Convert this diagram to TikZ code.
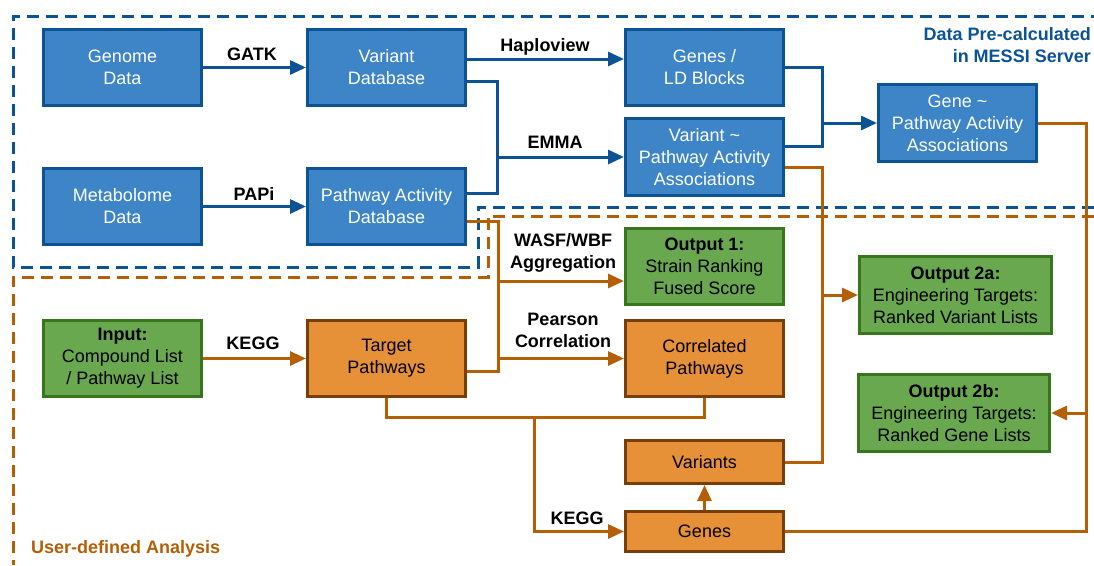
\documentclass[tikz,border=0pt]{standalone}
\usepackage{fontspec}
\setmainfont{Liberation Sans}
\usetikzlibrary{arrows.meta}

\definecolor{boxblue}{HTML}{3D85C6}
\definecolor{lineblue}{HTML}{0B5394}
\definecolor{boxgreen}{HTML}{6AA84F}
\definecolor{linegreen}{HTML}{38761D}
\definecolor{boxorange}{HTML}{E69138}
\definecolor{lineorange}{HTML}{B45F06}
\definecolor{edgebrown}{HTML}{783F04}

\tikzset{
  box/.style={draw, line width=3pt, minimum width=158pt, minimum height=76pt,
    align=center, inner sep=2pt, font=\fontsize{18}{22}\selectfont},
  bluebox/.style={box, fill=boxblue, draw=lineblue, text=white},
  greenbox/.style={box, fill=boxgreen, draw=linegreen},
  orangebox/.style={box, fill=boxorange, draw=edgebrown},
  blueline/.style={draw=lineblue, line width=3pt},
  orangeline/.style={draw=lineorange, line width=3pt},
  arr/.style={-{Triangle[length=16pt,width=14pt]}},
  lbl/.style={font=\bfseries\fontsize{18}{22}\selectfont, align=center, inner sep=0pt},
  region/.style={line width=3pt, dash pattern=on 12pt off 7pt}
}

\begin{document}
\begin{tikzpicture}[x=1pt,y=-1pt]
  \useasboundingbox (0,0) rectangle (1094,565);

  % the two areas
  \draw[region, lineblue] (1094,207) -- (478,207) -- (478,267) -- (13,267) -- (13,16) -- (1094,16);
  \draw[region, lineorange] (1094,216) -- (488,216) -- (488,277) -- (13,277) -- (13,565);
  \node[lbl, text=lineblue, align=right, anchor=base east] (server) at (1091,62) {Data Pre-calculated\\in MESSI Server};
  \node[lbl, text=lineorange, anchor=base west] (user) at (31,553) {User-defined Analysis};

  % precalculated data
  \node[bluebox] (gen) at (122.5,67.5) {Genome\\Data};
  \node[bluebox] (vdb) at (386.5,67.5) {Variant\\Database};
  \node[bluebox] (met) at (122.5,206.5) {Metabolome\\Data};
  \node[bluebox] (pad) at (386.5,206.5) {Pathway Activity\\Database};
  \node[bluebox] (gld) at (704.5,67.5) {Genes /\\LD Blocks};
  \node[bluebox, minimum height=77pt] (vpa) at (704.5,157) {Variant \textasciitilde\\Pathway Activity\\Associations};
  \node[bluebox, minimum height=77pt] (gpa) at (957.5,123) {Gene \textasciitilde\\Pathway Activity\\Associations};

  % user analysis
  \node[greenbox] (inp) at (122.5,358.5) {\textbf{Input:}\\Compound List\\/ Pathway List};
  \node[orangebox] (tgt) at (386.5,358.5) {Target\\Pathways};
  \node[greenbox] (o1) at (704.5,266.5) {\textbf{Output 1:}\\Strain Ranking\\Fused Score};
  \node[orangebox] (cor) at (704.5,358.5) {Correlated\\Pathways};
  \node[greenbox, minimum width=192pt, minimum height=77pt] (o2a) at (955.5,295) {\textbf{Output 2a:}\\Engineering Targets:\\Ranked Variant Lists};
  \node[greenbox, minimum width=191pt, minimum height=77pt] (o2b) at (954,413) {\textbf{Output 2b:}\\Engineering Targets:\\Ranked Gene Lists};
  \node[orangebox, minimum height=43pt] (var) at (704.5,462) {Variants};
  \node[orangebox, minimum height=40pt] (gns) at (704.5,531.5) {Genes};

  % junctions
  \coordinate (jb) at (497,157);
  \coordinate (jg) at (822,123);
  \coordinate (pt) at (498,221);
  \coordinate (tp) at (498,371);
  \coordinate (o1in) at ([yshift=-14.5pt]o1.west);
  \coordinate (jk) at (534,417);
  \coordinate (jv) at (822,295);
  \coordinate (jo) at (1086,413);

  % blue connectors
  \draw[blueline, arr] (gen) -- (vdb);
  \draw[blueline, arr] (met) -- (pad);
  \draw[blueline, arr] ([yshift=8.5pt]vdb.east) -- ([yshift=8.5pt]gld.west);
  \draw[blueline] ([yshift=-13.5pt]vdb.east) -| (jb);
  \draw[blueline] ([yshift=13.5pt]pad.east) -| (jb);
  \draw[blueline, arr] (jb) -- (vpa.west);
  \draw[blueline] (gld.east) -| (jg);
  \draw[blueline] ([yshift=11pt]vpa.east) -| (jg);
  \draw[blueline, arr] (jg) -- (gpa.west);

  % orange connectors
  \draw[orangeline, arr] (inp) -- (tgt);
  \draw[orangeline] ([yshift=-14.5pt]pad.east) -- (pt) -- (tp) -- ([yshift=-12.5pt]tgt.east);
  \draw[orangeline, arr] (o1in -| tp) -- (o1in);
  \draw[orangeline, arr] (cor.west -| tp) -- (cor.west);
  \draw[orangeline] (tgt.south) |- (jk) -| (cor.south);
  \draw[orangeline, arr] (jk) |- (gns.west);
  \draw[orangeline, arr] (gns) -- (var);
  \draw[orangeline] ([yshift=-10pt]vpa.east) -| (jv) |- (var.east);
  \draw[orangeline, arr] (jv) -- (o2a.west);
  \draw[orangeline] (gpa.east) -| (jo) |- (gns.east);
  \draw[orangeline, arr] (jo) -- (o2b.east);

  % edge labels
  \node[lbl, anchor=base] (gatk) at (252,60) {GATK};
  \node[lbl, anchor=base] (papi) at (254,200) {PAPi};
  \node[lbl, anchor=base] (haplo) at (545,51) {Haploview};
  \node[lbl, anchor=base] (emma) at (555,148) {EMMA};
  \node[lbl, anchor=base] (kegg) at (253,349) {KEGG};
  \node[lbl, anchor=base] (wasf) at (563,268) {WASF/WBF\\Aggregation};
  \node[lbl, anchor=base] (pear) at (563,347) {Pearson\\Correlation};
  \node[lbl, anchor=base] (kegg2) at (577,524) {KEGG};
\end{tikzpicture}
\end{document}
